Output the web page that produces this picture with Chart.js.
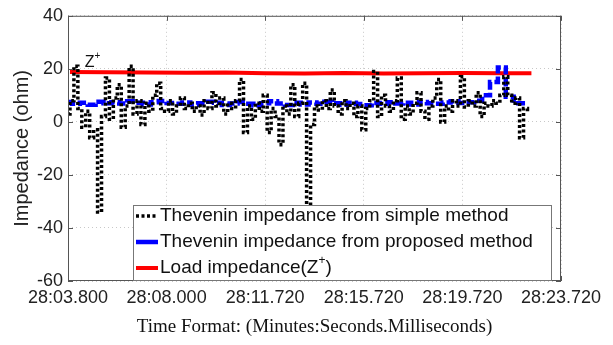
<!DOCTYPE html>
<html>
<head>
<meta charset="utf-8">
<script src="https://cdn.jsdelivr.net/npm/chart.js@4.4.1/dist/chart.umd.min.js"></script>
<style>
  html, body { margin: 0; padding: 0; background: #fff; }
  #wrap { width: 613px; height: 345px; }
</style>
</head>
<body>
<div id="wrap"><canvas id="c" width="613" height="345"></canvas></div>
<script>
// Time labels placed every 50 samples along the record
const timeTicks = ['28:03.800', '28:08.000', '28:11.720', '28:15.720', '28:19.720', '28:23.720'];
const samplesPerTick = 50;

// Thevenin impedance from the simple method (ohm), one value every 2 samples
const simpleStep = 2;
const simpleValues = [
  3, 8, 21, 5, -2, 4, -6, -3, -34, 2,
  16.5, 1, 9, 14, -2, 6, 21, 3, 8, -1,
  7, 4, 10, 14.6, 5, 4, 8, 3, 6, 9,
  5, 7, 4, 6, 2.6, 8, 5, 11, 6, 9,
  3, 7, 5, 8, 16, -4, 6, 1, 7, 4,
  10, -4, 5, 2, -8.6, 6, 3, 14, 2, 7,
  14.6, -32, -1, 6, 4.5, 8, 5, 12, 6, 3,
  8, 5, 7, 2, 6, -3, 5, 8, 19, 2,
  10, 6, 4, 8, 16.5, 1, 6, 3, 7, 11,
  4, 1, 6, 9, 16, 0, 6, 4, 8, 6,
  17, 5.6, 8, 6, 11, 2, 7, 6, 8, 7,
  10, 17, 10, 7, 9, -6, 5, 4
];

// Thevenin impedance from the proposed method (ohm), one value every 4 samples
const proposedStep = 4;
const proposedValues = [
  7.5, 6.8, 7.2, 6.5, 7.6, 7.0, 7.4, 6.9, 7.8, 7.2,
  6.6, 7.4, 7.9, 7.1, 6.8, 7.3, 6.5, 7.0, 7.6, 7.2,
  6.4, 6.9, 7.5, 6.8, 6.2, 7.0, 7.8, 6.9, 6.4, 7.2,
  6.6, 7.3, 6.8, 7.6, 7.0, 6.5, 7.2, 6.7, 6.3, 7.1,
  6.8, 7.4, 6.9, 7.2, 6.6, 7.5, 7.0, 6.8, 7.3, 7.8,
  7.1, 7.4, 8.0, 10.0, 15.0, 20.5, 9.5, 7.0, 7.0
];

// Load impedance Z+ (ohm) at the listed samples
const loadSamples = [1, 20, 40, 60, 80, 100, 120, 140, 160, 180, 200, 220, 235];
const loadValues  = [18.8, 18.7, 18.6, 18.5, 18.6, 18.3, 18.2, 18.4, 18.2, 18.3, 18.4, 18.3, 18.3];

const yTicks = [-60, -40, -20, 0, 20, 40];

const seriesLabels = [
  'Thevenin impedance from simple method',
  'Thevenin impedance from proposed method',
  'Load impedance(Z\u207A)'
];

const toPoints = (values, step) => values.map((v, i) => ({ x: i * step, y: v }));

const SANS = "'Liberation Sans', Arial, sans-serif";

// Box, inward tick marks, inset legend and the Z+ tag
const framePlugin = {
  id: 'frame',
  afterDraw(chart) {
    const { ctx, chartArea: a, scales } = chart;
    const xs = scales.x, ys = scales.y;
    ctx.save();

    // axes box
    ctx.strokeStyle = '#555';
    ctx.lineWidth = 1;
    ctx.strokeRect(a.left + 0.5, a.top + 0.5, a.right - a.left - 1, a.bottom - a.top - 1);

    // inward ticks on all four sides
    const tl = 5;
    ctx.beginPath();
    for (let i = 0; i < timeTicks.length; i++) {
      const px = Math.round(xs.getPixelForValue(i * samplesPerTick)) + 0.5;
      ctx.moveTo(px, a.bottom); ctx.lineTo(px, a.bottom - tl);
      ctx.moveTo(px, a.top); ctx.lineTo(px, a.top + tl);
    }
    yTicks.forEach(v => {
      const py = Math.round(ys.getPixelForValue(v)) + 0.5;
      ctx.moveTo(a.left, py); ctx.lineTo(a.left + tl, py);
      ctx.moveTo(a.right, py); ctx.lineTo(a.right - tl, py);
    });
    ctx.stroke();

    // Z+ tag near the load impedance line
    ctx.fillStyle = '#111';
    ctx.textBaseline = 'middle';
    ctx.textAlign = 'left';
    const zx = xs.getPixelForValue(8.5), zy = ys.getPixelForValue(22.5);
    ctx.font = '16px ' + SANS;
    ctx.fillText('Z', zx, zy);
    const zw = ctx.measureText('Z').width;
    ctx.font = '10px ' + SANS;
    ctx.fillText('+', zx + zw, zy - 6);

    // legend
    const lx = a.left + 65, lr = a.right - 9, lt = 205, lb = a.bottom;
    ctx.fillStyle = '#fff';
    ctx.fillRect(lx, lt, lr - lx, lb - lt);
    ctx.strokeStyle = '#777';
    ctx.strokeRect(lx + 0.5, lt + 0.5, lr - lx - 1, lb - lt - 1);

    const rowY = [216, 242, 268];
    chart.data.datasets.forEach((ds, i) => {
      const y = rowY[i];
      ctx.save();
      ctx.strokeStyle = ds.borderColor;
      ctx.lineWidth = ds.borderWidth;
      ctx.setLineDash(i === 0 ? [3, 2.5] : []);
      ctx.lineCap = 'butt';
      ctx.beginPath();
      ctx.moveTo(lx + 3, y);
      ctx.lineTo(lx + 25, y);
      ctx.stroke();
      ctx.restore();

      ctx.fillStyle = '#111';
      ctx.font = '19px ' + SANS;
      const parts = ds.label.split('\u207A');
      let tx = lx + 27;
      ctx.fillText(parts[0], tx, y);
      if (parts.length > 1) {
        tx += ctx.measureText(parts[0]).width;
        ctx.font = '12px ' + SANS;
        ctx.fillText('+', tx, y - 7);
        tx += ctx.measureText('+').width;
        ctx.font = '19px ' + SANS;
        ctx.fillText(parts[1], tx, y);
      }
    });
    ctx.restore();
  }
};

new Chart(document.getElementById('c'), {
  type: 'line',
  data: {
    datasets: [
      {
        label: seriesLabels[0],
        data: toPoints(simpleValues, simpleStep),
        borderColor: '#000000',
        borderWidth: 3.5,
        borderDash: [3, 2.5],
        borderCapStyle: 'butt',
        stepped: 'middle'
      },
      {
        label: seriesLabels[1],
        data: toPoints(proposedValues, proposedStep),
        borderColor: '#0000ff',
        borderWidth: 4.5,
        borderDash: [9, 3],
        borderCapStyle: 'butt',
        stepped: 'middle'
      },
      {
        label: seriesLabels[2],
        data: loadSamples.map((s, i) => ({ x: s, y: loadValues[i] })),
        borderColor: '#ff0000',
        borderWidth: 4
      }
    ]
  },
  options: {
    responsive: false,
    animation: false,
    devicePixelRatio: 1,
    layout: { padding: { left: 0, top: 15, right: 52, bottom: 0 } },
    elements: { point: { radius: 0 }, line: { tension: 0 } },
    plugins: { legend: { display: false }, tooltip: { enabled: false } },
    scales: {
      x: {
        type: 'linear',
        min: 0,
        max: samplesPerTick * (timeTicks.length - 1),
        afterFit(scale) { scale.height = 64; },
        ticks: {
          stepSize: samplesPerTick,
          autoSkip: false,
          maxRotation: 0,
          padding: 6,
          color: '#222',
          font: { family: SANS, size: 18 },
          callback: v => timeTicks[Math.round(v / samplesPerTick)]
        },
        grid: { color: '#c8c8c8', lineWidth: 1, drawTicks: false },
        border: { display: false, dash: [1, 3] },
        title: {
          display: true,
          text: 'Time Format: (Minutes:Seconds.Milliseconds)',
          color: '#111',
          font: { family: "'Liberation Serif', 'Times New Roman', serif", size: 19 },
          padding: { top: 0, bottom: 7 }
        }
      },
      y: {
        min: -60,
        max: 40,
        afterFit(scale) { scale.width = 68; },
        afterBuildTicks(scale) { scale.ticks = yTicks.map(v => ({ value: v })); },
        ticks: {
          padding: 5,
          color: '#222',
          font: { family: SANS, size: 18 }
        },
        grid: { color: '#c8c8c8', lineWidth: 1, drawTicks: false },
        border: { display: false, dash: [1, 3] },
        title: {
          display: true,
          text: 'Impedance (ohm)',
          color: '#222',
          font: { family: SANS, size: 20 },
          padding: { top: 10, bottom: 0 }
        }
      }
    }
  },
  plugins: [framePlugin]
});
</script>
</body>
</html>
